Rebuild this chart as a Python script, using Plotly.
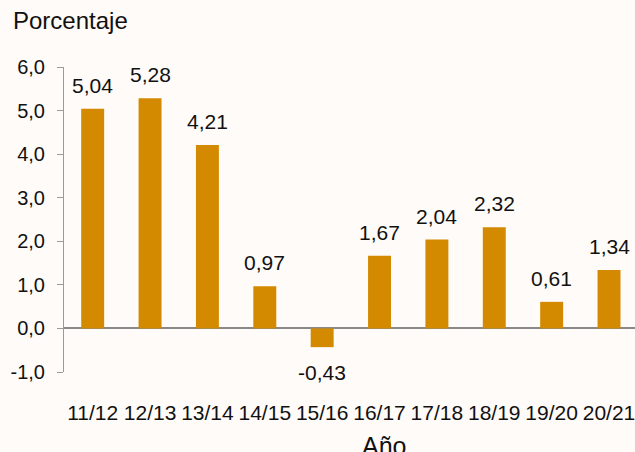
import plotly.graph_objects as go

years = ["11/12", "12/13", "13/14", "14/15", "15/16", "16/17", "17/18", "18/19", "19/20", "20/21"]
values = [5.04, 5.28, 4.21, 0.97, -0.43, 1.67, 2.04, 2.32, 0.61, 1.34]
y_ticks = [-1, 0, 1, 2, 3, 4, 5, 6]

BAR = "#D38A00"
BG = "#FFFBF8"
TXT = "#111111"
FONT = "Liberation Sans, Arial, sans-serif"

def fmt(v, d):
    return f"{v:.{d}f}".replace(".", ",")

fig = go.Figure(go.Bar(x=years, y=values, marker_color=BAR, width=0.40,
                       marker_line_width=0, hoverinfo="skip"))

for yr, v in zip(years, values):
    fig.add_annotation(x=yr, y=v, text=fmt(v, 2), showarrow=False,
                       yanchor="bottom" if v >= 0 else "top",
                       yshift=10 if v >= 0 else -12,
                       font=dict(size=21, color=TXT, family=FONT))

fig.add_annotation(xref="paper", yref="paper", x=-0.0928, y=1.1, xanchor="left", yanchor="bottom",
                   text="Porcentaje", showarrow=False,
                   font=dict(size=24, color=TXT, family=FONT))
fig.add_annotation(xref="paper", yref="paper", x=0.56, y=-0.19, xanchor="center", yanchor="top",
                   text="Año", showarrow=False,
                   font=dict(size=25, color=TXT, family=FONT))

fig.update_layout(
    width=635, height=452,
    margin=dict(l=64, r=0, t=67, b=80),
    paper_bgcolor=BG, plot_bgcolor=BG,
    showlegend=False,
    font=dict(family=FONT, size=20, color=TXT),
    bargap=0.6,
)
fig.update_xaxes(range=[-0.5, 9.453], showgrid=False, showline=False, ticks="",
                 tickfont=dict(size=21, color=TXT), ticklabelstandoff=26)
fig.update_yaxes(range=[-1, 6], tickvals=y_ticks, ticktext=[fmt(t, 1) for t in y_ticks],
                 showgrid=False, showline=True, linecolor="#9a9a9a", linewidth=1,
                 ticks="outside", ticklen=6, tickcolor="#9a9a9a",
                 zeroline=True, zerolinecolor="#888888", zerolinewidth=1.5,
                 tickfont=dict(size=20, color=TXT), ticklabelstandoff=8)

fig.write_html("out.html", config={"displayModeBar": False},
               post_script="document.body.style.margin='0';document.body.style.overflow='hidden';")
